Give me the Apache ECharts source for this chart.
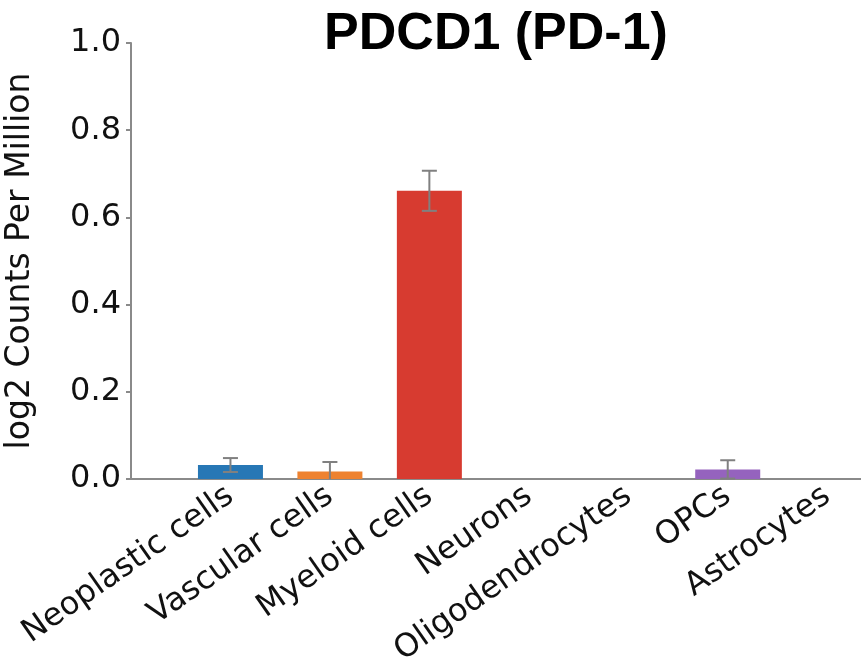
<!DOCTYPE html>
<html>
<head>
<meta charset="utf-8">
<script src="https://cdn.jsdelivr.net/npm/echarts@6/dist/echarts.min.js"></script>
<style>html,body{margin:0;padding:0;background:#fff}#c{width:861px;height:665px}</style>
</head>
<body>
<div id="c"></div>
<script>
const categories = ["Neoplastic cells", "Vascular cells", "Myeloid cells", "Neurons", "Oligodendrocytes", "OPCs", "Astrocytes"];
const values = [0.032, 0.017, 0.661, 0.0, 0.0, 0.022, 0.0];
const errors = [0.016, 0.022, 0.046, 0, 0, 0.021, 0];
const yTicks = [0.0, 0.2, 0.4, 0.6, 0.8, 1.0];
const barColors = ["#2777b5", "#ee8230", "#d73b30", "#4aa44a", "#8c564b", "#9563be", "#e377c2"];
const titleText = "PDCD1 (PD-1)";
const yName = "log2 Counts Per Million";

// categories are placed at integer positions 0..6 on the x scale (view starts one slot before the first)
const barData = values.map((v, i) => ({value: [i, v], itemStyle: {color: barColors[i]}}));
const errData = [];
values.forEach((v, i) => { if (errors[i] > 0) errData.push([i, v - errors[i], v + errors[i]]); });

const chart = echarts.init(document.getElementById('c'));
chart.setOption({
  animation: false,
  backgroundColor: '#fff',
  title: {
    text: titleText,
    left: 491,
    top: 4,
    textAlign: 'center',
    textStyle: {fontFamily: 'Liberation Sans', fontWeight: 'bold', fontSize: 52, color: '#000'}
  },
  grid: {left: 131, top: 43, bottom: 186, right: 0, containLabel: false, outerBoundsMode: 'none'},
  xAxis: {
    type: 'value',
    min: -1,
    max: 6.34,
    interval: 1,
    axisLine: {onZero: false, lineStyle: {color: '#8a8a8a', width: 2}},
    axisTick: {show: false},
    axisLabel: {
      rotate: 35, margin: 14, fontSize: 32, fontFamily: 'DejaVu Sans', color: '#111',
      showMinLabel: true, showMaxLabel: false,
      formatter: v => (Number.isInteger(v) && categories[v] !== undefined) ? categories[v] : ''
    },
    splitLine: {show: false}
  },
  yAxis: {
    type: 'value',
    min: 0,
    max: 1,
    interval: 0.2,
    name: yName,
    nameLocation: 'middle',
    nameGap: 94,
    nameTextStyle: {fontSize: 33, fontFamily: 'DejaVu Sans', color: '#111'},
    axisLine: {show: true, onZero: false, lineStyle: {color: '#8a8a8a', width: 2}},
    axisTick: {show: true, length: 5, lineStyle: {color: '#8a8a8a', width: 2}},
    axisLabel: {margin: 10, fontSize: 32, fontFamily: 'DejaVu Sans', color: '#111', formatter: v => v.toFixed(1)},
    splitLine: {show: false}
  },
  series: [
    {
      type: 'bar',
      data: barData,
      barWidth: 65,
      z: 2
    },
    {
      type: 'custom',
      data: errData,
      z: 5,
      encode: {x: 0, y: [1, 2]},
      renderItem: function (params, api) {
        const x = api.value(0);
        const lo = api.coord([x, Math.max(0, api.value(1))]);
        const hi = api.coord([x, api.value(2)]);
        const low = api.coord([x, api.value(1)]);
        const half = 7.5;
        const style = {stroke: '#808080', lineWidth: 2, fill: null};
        const children = [
          {type: 'line', shape: {x1: hi[0], y1: hi[1], x2: lo[0], y2: lo[1]}, style: style},
          {type: 'line', shape: {x1: hi[0] - half, y1: hi[1], x2: hi[0] + half, y2: hi[1]}, style: style}
        ];
        if (api.value(1) >= 0) {
          children.push({type: 'line', shape: {x1: low[0] - half, y1: low[1], x2: low[0] + half, y2: low[1]}, style: style});
        }
        return {type: 'group', children: children};
      }
    }
  ]
});
</script>
</body>
</html>
